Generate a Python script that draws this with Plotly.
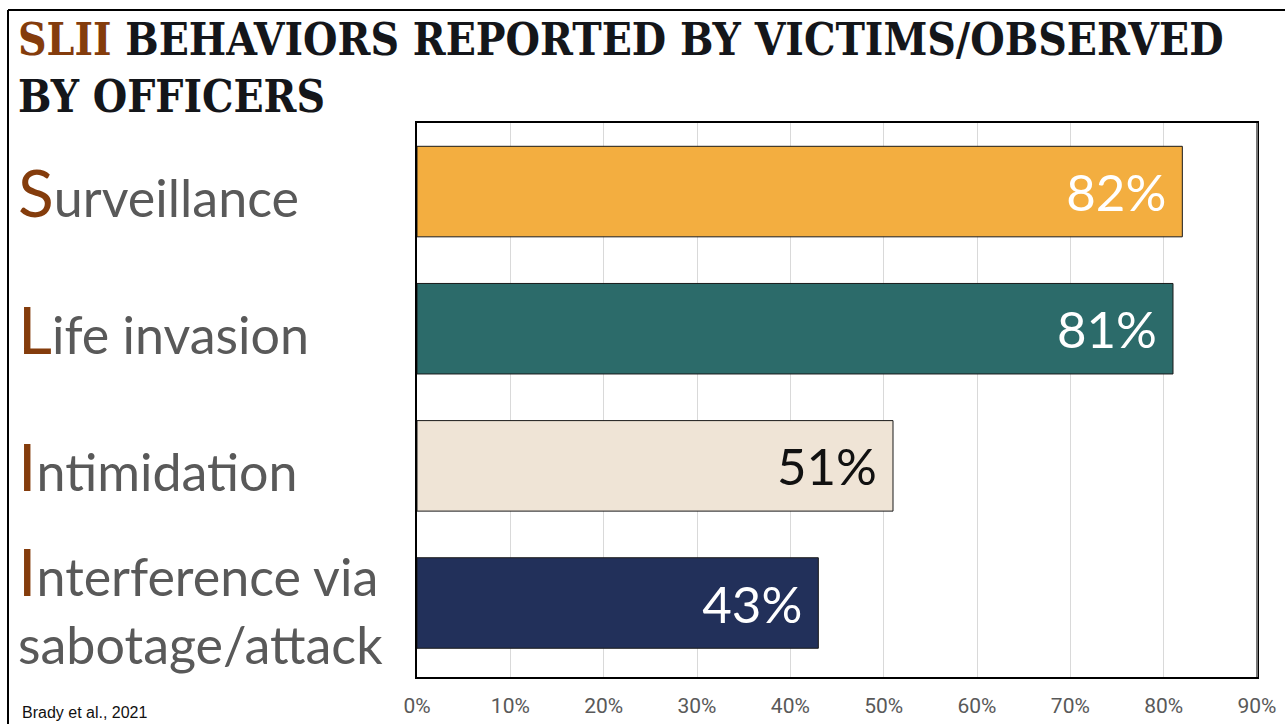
import plotly.graph_objects as go

# data
categories = ["Surveillance", "Life invasion", "Intimidation", "Interference via sabotage/attack"]
first_letters = ["S", "L", "I", "I"]
label_rest = ["urveillance", "ife invasion", "ntimidation", "nterference via<br>sabotage/attack"]
values = [0.82, 0.81, 0.51, 0.43]
bar_colors = ["#F3AE40", "#2C6B6A", "#EFE4D6", "#22305A"]
text_colors = ["white", "white", "#111111", "white"]
tick_vals = [0, 0.1, 0.2, 0.3, 0.4, 0.5, 0.6, 0.7, 0.8, 0.9]
tick_text = ["0%", "10%", "20%", "30%", "40%", "50%", "60%", "70%", "80%", "90%"]

W, H = 1285, 724
L, R, T, B = 417, 28, 123, 47
pw, ph = W - L - R, H - T - B


def px_x(x):
    return (x - L) / pw


def px_y(y):
    return (H - B - y) / ph


fig = go.Figure()
fig.add_trace(go.Bar(
    x=values, y=categories, orientation="h",
    marker=dict(color=bar_colors, line=dict(color="#1a1a1a", width=1)),
    width=0.66,
    text=[f"{round(v*100)}%&nbsp;" for v in values],
    textposition="inside", insidetextanchor="end",
    textfont=dict(family="Lato, Noto Sans", size=51, color=text_colors),
    cliponaxis=False, hoverinfo="skip",
))

# category labels, large first letter in brown
for cat, fl, rest in zip(categories, first_letters, label_rest):
    fig.add_annotation(
        x=px_x(16), xref="paper", y=cat, yref="y",
        xanchor="left", yanchor="middle", align="left", showarrow=False,
        text=f"<span style='color:#843C0C;font-size:66px'>{fl}</span>{rest}",
        font=dict(family="Lato, Noto Sans", size=52, color="#595959"),
    )

# title
fig.add_annotation(
    x=px_x(16), xref="paper", y=px_y(12), yref="paper",
    xanchor="left", yanchor="top", align="left", showarrow=False,
    text="<span style='color:#843C0C'>SLII</span> BEHAVIORS REPORTED BY VICTIMS/OBSERVED<br>BY OFFICERS",
    font=dict(family="DejaVu Serif Condensed, DejaVu Serif", size=44, color="#14161a", weight="bold"),
)

fig.add_annotation(
    x=px_x(20), xref="paper", y=px_y(712), yref="paper",
    xanchor="left", yanchor="middle", showarrow=False,
    text="Brady et al., 2021",
    font=dict(family="Liberation Sans, Arial", size=16, color="#111111"),
)

# outer frame lines
fig.add_shape(type="line", xref="paper", yref="paper",
              x0=px_x(8), x1=px_x(8), y0=px_y(730), y1=px_y(10),
              line=dict(color="black", width=2))
fig.add_shape(type="line", xref="paper", yref="paper",
              x0=px_x(8), x1=px_x(1290), y0=px_y(10), y1=px_y(10),
              line=dict(color="black", width=2))

# right edge of the plot frame is grey in the reference
fig.add_shape(type="line", xref="paper", yref="paper",
              x0=1, x1=1, y0=0, y1=1, line=dict(color="#777777", width=2))

fig.update_layout(
    width=W, height=H, autosize=False,
    margin=dict(l=L, r=R, t=T, b=B, autoexpand=False),
    paper_bgcolor="white", plot_bgcolor="white",
    showlegend=False,
    bargap=0.34,
    xaxis=dict(
        range=[0, 0.9], tickvals=tick_vals, ticktext=tick_text,
        showgrid=True, gridcolor="#D9D9D9", gridwidth=1,
        showline=True, linecolor="black", linewidth=1.5, mirror=True,
        ticks="", ticklabelstandoff=9, zeroline=False, automargin=False,
        tickfont=dict(family="Liberation Sans Narrow, Roboto", size=21, color="#595959"),
    ),
    yaxis=dict(
        autorange="reversed", showticklabels=False, ticks="",
        showline=True, linecolor="black", linewidth=1.5, mirror=True,
        showgrid=False, automargin=False,
    ),
)

fig.write_html("out.html", config={"displayModeBar": False, "responsive": False},
               post_script="document.body.style.margin='0';")
